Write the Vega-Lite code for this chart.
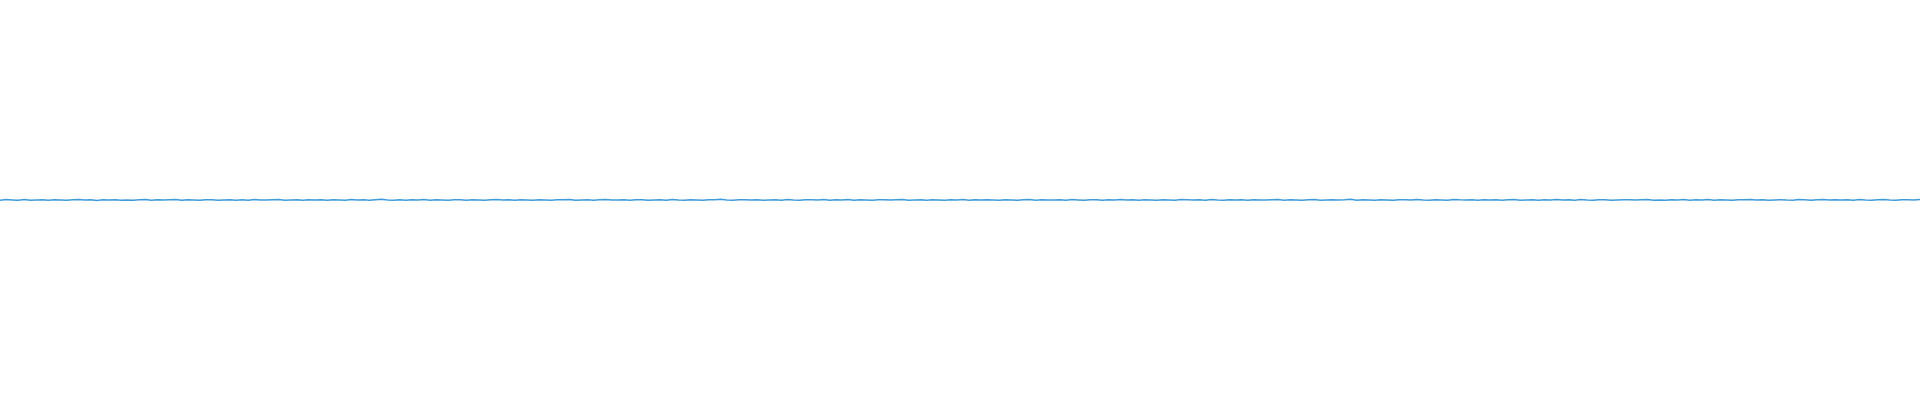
{
  "$schema": "https://vega.github.io/schema/vega-lite/v6.json",
  "description": "Flat noisy signal across the full width",
  "autosize": {"type": "fit", "contains": "padding"},
  "width": 1920,
  "height": 400,
  "padding": 0,
  "background": "white",
  "config": {"view": {"stroke": null}},
  "data": {
    "values": [
      {"t": 0, "v": 0.2}, {"t": 1, "v": -0.3}, {"t": 2, "v": 0.6}, {"t": 3, "v": 0.1}, {"t": 4, "v": -0.4},
      {"t": 5, "v": 0.7}, {"t": 6, "v": -0.2}, {"t": 7, "v": 0.0}, {"t": 8, "v": 0.3}, {"t": 9, "v": -0.5},
      {"t": 10, "v": 0.4}, {"t": 11, "v": 0.1}, {"t": 12, "v": -0.3}, {"t": 13, "v": 0.2}, {"t": 14, "v": 0.8},
      {"t": 15, "v": -0.1}, {"t": 16, "v": 0.3}, {"t": 17, "v": -0.6}, {"t": 18, "v": 0.2}, {"t": 19, "v": 0.0},
      {"t": 20, "v": 0.5}, {"t": 21, "v": -0.2}, {"t": 22, "v": 0.1}, {"t": 23, "v": -0.4}, {"t": 24, "v": 0.3},
      {"t": 25, "v": 0.6}, {"t": 26, "v": -0.3}, {"t": 27, "v": 0.2}, {"t": 28, "v": -0.1}, {"t": 29, "v": 0.4},
      {"t": 30, "v": 0.9}, {"t": 31, "v": -0.2}, {"t": 32, "v": 0.3}, {"t": 33, "v": 0.0}, {"t": 34, "v": -0.5},
      {"t": 35, "v": 0.2}, {"t": 36, "v": 0.5}, {"t": 37, "v": -0.3}, {"t": 38, "v": 0.1}, {"t": 39, "v": 0.4},
      {"t": 40, "v": -0.2}, {"t": 41, "v": 0.3}, {"t": 42, "v": -0.4}, {"t": 43, "v": 0.6}, {"t": 44, "v": 0.0},
      {"t": 45, "v": -0.1}, {"t": 46, "v": 0.2}, {"t": 47, "v": 0.7}, {"t": 48, "v": -0.3}, {"t": 49, "v": 0.1},
      {"t": 50, "v": 0.4}, {"t": 51, "v": -0.5}, {"t": 52, "v": 0.2}, {"t": 53, "v": 0.0}, {"t": 54, "v": 0.3},
      {"t": 55, "v": -0.2}, {"t": 56, "v": 0.5}, {"t": 57, "v": 0.1}, {"t": 58, "v": -0.3}, {"t": 59, "v": 0.8},
      {"t": 60, "v": -0.1}, {"t": 61, "v": 0.2}, {"t": 62, "v": -0.4}, {"t": 63, "v": 0.3}, {"t": 64, "v": 1.0},
      {"t": 65, "v": 0.1}, {"t": 66, "v": -0.2}, {"t": 67, "v": 0.4}, {"t": 68, "v": -0.3}, {"t": 69, "v": 0.2},
      {"t": 70, "v": 0.0}, {"t": 71, "v": 0.6}, {"t": 72, "v": -0.5}, {"t": 73, "v": 0.3}, {"t": 74, "v": 0.1},
      {"t": 75, "v": -0.2}, {"t": 76, "v": 0.4}, {"t": 77, "v": 0.2}, {"t": 78, "v": -0.3}, {"t": 79, "v": 0.5},
      {"t": 80, "v": 0.0}, {"t": 81, "v": -0.4}, {"t": 82, "v": 0.3}, {"t": 83, "v": 0.7}, {"t": 84, "v": -0.1},
      {"t": 85, "v": 0.2}, {"t": 86, "v": -0.3}, {"t": 87, "v": 0.4}, {"t": 88, "v": 0.1}, {"t": 89, "v": -0.2},
      {"t": 90, "v": 0.5}, {"t": 91, "v": 0.0}, {"t": 92, "v": -0.5}, {"t": 93, "v": 0.3}, {"t": 94, "v": 0.2},
      {"t": 95, "v": 0.9}, {"t": 96, "v": -0.2}, {"t": 97, "v": 0.1}, {"t": 98, "v": 0.4}, {"t": 99, "v": -0.3},
      {"t": 100, "v": 0.2}, {"t": 101, "v": 0.6}, {"t": 102, "v": -0.1}, {"t": 103, "v": 0.0}, {"t": 104, "v": 0.3},
      {"t": 105, "v": -0.4}, {"t": 106, "v": 0.2}, {"t": 107, "v": 0.5}, {"t": 108, "v": -0.2}, {"t": 109, "v": 0.1},
      {"t": 110, "v": 0.4}, {"t": 111, "v": -0.3}, {"t": 112, "v": 0.8}, {"t": 113, "v": 0.0}, {"t": 114, "v": -0.2},
      {"t": 115, "v": 0.3}, {"t": 116, "v": 0.1}, {"t": 117, "v": -0.5}, {"t": 118, "v": 0.4}, {"t": 119, "v": 0.2},
      {"t": 120, "v": 1.1}, {"t": 121, "v": 0.0}, {"t": 122, "v": -0.3}, {"t": 123, "v": 0.3}, {"t": 124, "v": 0.2},
      {"t": 125, "v": -0.1}, {"t": 126, "v": 0.5}, {"t": 127, "v": -0.4}, {"t": 128, "v": 0.1}, {"t": 129, "v": 0.3},
      {"t": 130, "v": -0.2}, {"t": 131, "v": 0.6}, {"t": 132, "v": 0.0}, {"t": 133, "v": -0.3}, {"t": 134, "v": 0.2},
      {"t": 135, "v": 0.4}, {"t": 136, "v": -0.1}, {"t": 137, "v": 0.7}, {"t": 138, "v": -0.4}, {"t": 139, "v": 0.2},
      {"t": 140, "v": 0.1}, {"t": 141, "v": 0.9}, {"t": 142, "v": -0.2}, {"t": 143, "v": 0.3}, {"t": 144, "v": 0.0},
      {"t": 145, "v": -0.5}, {"t": 146, "v": 0.4}, {"t": 147, "v": 0.2}, {"t": 148, "v": -0.1}, {"t": 149, "v": 0.3},
      {"t": 150, "v": 0.6}, {"t": 151, "v": -0.3}, {"t": 152, "v": 0.1}, {"t": 153, "v": 0.2}, {"t": 154, "v": -0.2},
      {"t": 155, "v": 0.5}, {"t": 156, "v": 0.0}, {"t": 157, "v": -0.4}, {"t": 158, "v": 0.3}, {"t": 159, "v": 0.1},
      {"t": 160, "v": 0.8}, {"t": 161, "v": -0.2}, {"t": 162, "v": 0.4}, {"t": 163, "v": -0.1}, {"t": 164, "v": 0.2},
      {"t": 165, "v": 0.0}, {"t": 166, "v": -0.3}, {"t": 167, "v": 0.5}, {"t": 168, "v": 0.1}, {"t": 169, "v": -0.4},
      {"t": 170, "v": 0.3}, {"t": 171, "v": 0.7}, {"t": 172, "v": -0.2}, {"t": 173, "v": 0.2}, {"t": 174, "v": 0.0},
      {"t": 175, "v": -0.1}, {"t": 176, "v": 0.4}, {"t": 177, "v": -0.3}, {"t": 178, "v": 0.6}, {"t": 179, "v": 0.1},
      {"t": 180, "v": -0.2}, {"t": 181, "v": 0.3}, {"t": 182, "v": 0.2}, {"t": 183, "v": -0.5}, {"t": 184, "v": 0.4},
      {"t": 185, "v": 0.0}, {"t": 186, "v": 0.9}, {"t": 187, "v": -0.1}, {"t": 188, "v": 0.2}, {"t": 189, "v": -0.3},
      {"t": 190, "v": 0.5}, {"t": 191, "v": 0.1}, {"t": 192, "v": -0.2}, {"t": 193, "v": 0.3}, {"t": 194, "v": 0.0},
      {"t": 195, "v": -0.4}, {"t": 196, "v": 0.6}, {"t": 197, "v": 0.2}, {"t": 198, "v": -0.1}, {"t": 199, "v": 0.4},
      {"t": 200, "v": -0.3}, {"t": 201, "v": 0.8}, {"t": 202, "v": 0.1}, {"t": 203, "v": -0.2}, {"t": 204, "v": 0.3},
      {"t": 205, "v": 0.0}, {"t": 206, "v": 0.5}, {"t": 207, "v": -0.4}, {"t": 208, "v": 0.2}, {"t": 209, "v": 0.1},
      {"t": 210, "v": -0.1}, {"t": 211, "v": 0.4}, {"t": 212, "v": 0.7}, {"t": 213, "v": -0.3}, {"t": 214, "v": 0.2},
      {"t": 215, "v": 0.0}, {"t": 216, "v": -0.2}, {"t": 217, "v": 0.3}, {"t": 218, "v": 0.6}, {"t": 219, "v": -0.5},
      {"t": 220, "v": 0.1}, {"t": 221, "v": 0.4}, {"t": 222, "v": -0.1}, {"t": 223, "v": 0.2}, {"t": 224, "v": 1.0},
      {"t": 225, "v": -0.2}, {"t": 226, "v": 0.3}, {"t": 227, "v": 0.0}, {"t": 228, "v": -0.4}, {"t": 229, "v": 0.5},
      {"t": 230, "v": 0.1}, {"t": 231, "v": -0.3}, {"t": 232, "v": 0.2}, {"t": 233, "v": 0.4}, {"t": 234, "v": -0.1},
      {"t": 235, "v": 0.6}, {"t": 236, "v": 0.0}, {"t": 237, "v": -0.2}, {"t": 238, "v": 0.3}, {"t": 239, "v": 0.1},
      {"t": 240, "v": -0.4}, {"t": 241, "v": 0.8}, {"t": 242, "v": 0.2}, {"t": 243, "v": -0.1}, {"t": 244, "v": 0.3},
      {"t": 245, "v": -0.3}, {"t": 246, "v": 0.5}, {"t": 247, "v": 0.0}, {"t": 248, "v": 0.2}, {"t": 249, "v": -0.2},
      {"t": 250, "v": 0.4}, {"t": 251, "v": 0.7}, {"t": 252, "v": -0.3}, {"t": 253, "v": 0.1}, {"t": 254, "v": 0.3},
      {"t": 255, "v": -0.5}, {"t": 256, "v": 0.2}, {"t": 257, "v": 0.0}, {"t": 258, "v": 0.6}, {"t": 259, "v": -0.1},
      {"t": 260, "v": 0.3}, {"t": 261, "v": -0.2}, {"t": 262, "v": 0.9}, {"t": 263, "v": 0.1}, {"t": 264, "v": -0.4},
      {"t": 265, "v": 0.2}, {"t": 266, "v": 0.4}, {"t": 267, "v": -0.3}, {"t": 268, "v": 0.0}, {"t": 269, "v": 0.5},
      {"t": 270, "v": 0.2}, {"t": 271, "v": -0.1}, {"t": 272, "v": 0.3}, {"t": 273, "v": 0.7}, {"t": 274, "v": -0.2},
      {"t": 275, "v": 0.1}, {"t": 276, "v": -0.4}, {"t": 277, "v": 0.4}, {"t": 278, "v": 0.0}, {"t": 279, "v": 0.6},
      {"t": 280, "v": -0.3}, {"t": 281, "v": 0.2}, {"t": 282, "v": 0.1}, {"t": 283, "v": 0.8}, {"t": 284, "v": -0.2},
      {"t": 285, "v": 0.3}, {"t": 286, "v": 0.0}, {"t": 287, "v": -0.5}, {"t": 288, "v": 0.4}, {"t": 289, "v": 0.2},
      {"t": 290, "v": 0.9}, {"t": 291, "v": -0.1}, {"t": 292, "v": 0.3}, {"t": 293, "v": -0.3}, {"t": 294, "v": 0.1},
      {"t": 295, "v": 0.5}, {"t": 296, "v": 0.0}, {"t": 297, "v": -0.2}, {"t": 298, "v": 0.7}, {"t": 299, "v": 0.2},
      {"t": 300, "v": -0.4}, {"t": 301, "v": 0.3}, {"t": 302, "v": 0.6}, {"t": 303, "v": -0.1}, {"t": 304, "v": 0.2},
      {"t": 305, "v": 0.0}, {"t": 306, "v": 0.4}, {"t": 307, "v": -0.3}, {"t": 308, "v": 0.8}, {"t": 309, "v": 0.1},
      {"t": 310, "v": -0.2}, {"t": 311, "v": 0.3}, {"t": 312, "v": 0.9}, {"t": 313, "v": 0.0}, {"t": 314, "v": -0.4},
      {"t": 315, "v": 0.5}, {"t": 316, "v": 0.2}, {"t": 317, "v": -0.1}, {"t": 318, "v": 0.7}, {"t": 319, "v": 0.3}
    ]
  },
  "mark": {"type": "line", "stroke": "#3f9cdb", "strokeWidth": 1.5, "clip": true},
  "encoding": {
    "x": {
      "field": "t",
      "type": "quantitative",
      "scale": {"domain": [1, 318], "nice": false, "zero": false},
      "axis": null
    },
    "y": {
      "field": "v",
      "type": "quantitative",
      "scale": {"domain": [-300, 300], "nice": false},
      "axis": null
    }
  }
}
